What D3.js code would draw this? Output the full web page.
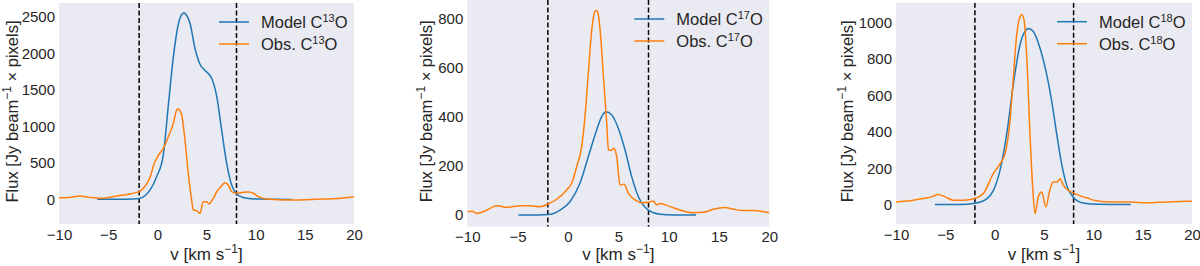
<!DOCTYPE html>
<html>
<head>
<meta charset="utf-8">
<title>Line profiles</title>
<script src="https://cdn.jsdelivr.net/npm/d3@7"></script>
<style>
    body { margin: 0; background: #fff; }
    svg { display: block; font-family: Arial, 'Liberation Sans', sans-serif; }
    .tick text { fill: #262626; font-size: 15px; }
</style>
</head>
<body>
<div id="chart"></div>
<script>
    // velocity [km/s], flux pairs
    var model13 = [[-6.1, 0], [-4, 0], [-2.5, 5], [-1.83, 12], [-1.2, 55], [-0.75, 125], [-0.07, 310],
        [0.61, 610], [1.12, 1290], [1.63, 1950], [2.14, 2400], [2.45, 2525], [2.71, 2555], [3.0, 2515],
        [3.32, 2410], [3.83, 2065], [4.34, 1850], [4.85, 1765], [5.3, 1705], [5.53, 1655], [6.04, 1410],
        [6.54, 950], [7.05, 493], [7.56, 196], [8.07, 72], [8.6, 32], [9.09, 16], [10.4, 3], [12, 0], [13.65, -3]];
    var obs13 = [[-10, 22], [-9, 25], [-7.86, 45], [-7, 30], [-5.83, 14], [-4.5, 35], [-3.46, 59], [-2.78, 73],
        [-2.1, 95], [-1.76, 110], [-1.42, 150], [-0.75, 300], [-0.26, 510], [0.1, 600], [0.61, 698],
        [1.12, 857], [1.63, 1040], [1.97, 1222], [2.14, 1236], [2.3, 1215], [2.48, 1154], [2.81, 812],
        [3.15, 356], [3.49, -10], [3.66, -146], [3.99, -155], [4.34, -192], [4.67, -33], [5.02, -33],
        [5.25, -64], [5.63, 0], [6.04, 104], [6.37, 159], [6.88, 227], [7.22, 196], [7.56, 105], [8.07, 82],
        [8.74, 96], [9.3, 100], [9.8, 80], [10.27, 36], [11.1, 4], [13.5, -10], [16.2, 0], [18.6, 14], [20, 36]];

    var model17 = [[-4.93, 0], [-3, 0], [-1.95, 2], [-1.3, 8], [-0.79, 20], [0.2, 54], [1.19, 129], [2.02, 237],
        [2.85, 346], [3.35, 400], [3.78, 420], [4.34, 407], [5.0, 353], [5.67, 264], [6.33, 156], [7.0, 74],
        [7.98, 20], [9.14, 3], [10.5, 0], [12.72, 0]];
    var obs17 = [[-10, 13], [-9.5, 15], [-9.08, 7], [-8.5, 12], [-8.07, 20], [-7.5, 32], [-7.08, 38], [-6.09, 31],
        [-5.5, 34], [-4.77, 38], [-3.77, 38], [-2.78, 34], [-1.95, 45], [-1.12, 64], [-0.13, 102], [0.37, 129],
        [0.87, 197], [1.36, 278], [1.69, 400], [2.02, 576], [2.36, 752], [2.69, 827], [2.85, 831], [3.02, 813],
        [3.25, 725], [3.52, 563], [3.85, 373], [4.02, 264], [4.34, 263], [4.57, 271], [4.84, 237], [5.17, 122],
        [5.57, 125], [6.0, 88], [6.66, 61], [7.33, 50], [7.98, 52], [8.48, 57], [8.81, 41], [9.14, 47],
        [10.14, 34], [11.13, 20], [12.45, 9], [13.44, 11], [14.44, 23], [15.6, 30], [16.4, 24], [17.4, 18],
        [18.4, 18], [20, 9]];

    var model18 = [[-6.05, 2], [-3.51, 2], [-1.99, 9], [-0.81, 33], [-0.14, 78], [0.54, 189], [1.22, 389],
        [1.89, 661], [2.57, 879], [3.07, 952], [3.41, 968], [3.92, 952], [4.59, 861], [5.27, 716], [5.78, 570],
        [6.29, 389], [6.79, 225], [7.3, 107], [7.97, 42], [8.98, 10], [10.5, 3], [13.8, 2]];
    var obs18 = [[-10, 16], [-8.58, 22], [-7.23, 35], [-6.38, 44], [-5.71, 57], [-5.03, 44], [-4.19, 26],
        [-3.18, 26], [-1.99, 35], [-1.15, 62], [-0.14, 171], [0.54, 225], [1.05, 280], [1.55, 461], [1.89, 697],
        [2.23, 933], [2.57, 1033], [2.74, 1045], [2.98, 1015], [3.24, 824], [3.58, 389], [3.85, 98], [4.09, -47],
        [4.42, 44], [4.76, 71], [5.2, -11], [5.54, 71], [5.94, 125], [6.34, 125], [6.62, 144], [6.96, 107],
        [7.47, 80], [8.14, 62], [8.98, 44], [9.66, 33], [10.0, 26], [11.69, 16], [13.72, 16], [15.41, 11],
        [17.44, 16], [20, 20]];

    var isotopes = ['13', '17', '18'];
    var cuts = [[-1.85, 8.05], [-2, 8], [-2, 8]];
    var xTicks = [-10, -5, 0, 5, 10, 15, 20];
    var yTicks = [[0, 500, 1000, 1500, 2000, 2500], [0, 200, 400, 600, 800], [0, 200, 400, 600, 800, 1000]];
    var yDomains = [[-338, 2688], [-47.6, 874], [-105, 1110]];

    var blue = '#1f77b4', orange = '#ff7f0e', ink = '#262626';

    // pixel boxes of the three axes
    var boxes = [
        {left: 59, right: 354, top: 3, bottom: 224, ylabX: 11.5},
        {left: 467.3, right: 769.3, top: 0, bottom: 226.7, ylabX: 426},
        {left: 896, right: 1192, top: 2.7, bottom: 224, ylabX: 847}
    ];
    var series = [[model13, obs13], [model17, obs17], [model18, obs18]];

    var svg = d3.select('#chart').append('svg')
            .attr('width', 1200)
            .attr('height', 266);

    function addIso(sel, pre, iso) {
        sel.append('tspan').text(pre + 'C');
        sel.append('tspan').attr('dy', -6).style('font-size', '11px').text(iso);
        sel.append('tspan').attr('dy', 6).text('O');
    }

    boxes.forEach(function (b, i) {
        var x = d3.scaleLinear().domain([-10, 20]).range([b.left, b.right]);
        var y = d3.scaleLinear().domain(yDomains[i]).range([b.bottom, b.top]);

        var g = svg.append('g');

        g.append('rect')
                .attr('x', b.left)
                .attr('y', b.top)
                .attr('width', b.right - b.left)
                .attr('height', b.bottom - b.top)
                .style('fill', '#eaeaf2');

        var clipId = 'clip' + i;
        g.append('clipPath').attr('id', clipId).append('rect')
                .attr('x', b.left).attr('y', b.top)
                .attr('width', b.right - b.left).attr('height', b.bottom - b.top);

        var plot = g.append('g').attr('clip-path', 'url(#' + clipId + ')');

        cuts[i].forEach(function (c) {
            plot.append('line')
                    .attr('x1', x(c)).attr('x2', x(c))
                    .attr('y1', b.top).attr('y2', b.bottom)
                    .style('stroke', '#000')
                    .style('stroke-width', 1.5)
                    .style('stroke-dasharray', '5,2.5');
        });

        var line = d3.line()
                .curve(d3.curveMonotoneX)
                .x(function (d) { return x(d[0]); })
                .y(function (d) { return y(d[1]); });

        plot.append('path')
                .attr('d', line(series[i][0]))
                .style('fill', 'none')
                .style('stroke', blue)
                .style('stroke-width', 1.5);

        plot.append('path')
                .attr('d', line(series[i][1]))
                .style('fill', 'none')
                .style('stroke', orange)
                .style('stroke-width', 1.5);

        // axes without tick marks or domain line
        var xAxis = d3.axisBottom(x).tickValues(xTicks).tickSize(0).tickPadding(5)
                .tickFormat(d3.format('d'));
        g.append('g')
                .attr('transform', 'translate(0,' + b.bottom + ')')
                .call(xAxis)
                .call(function (s) { s.select('.domain').remove(); });

        var yAxis = d3.axisLeft(y).tickValues(yTicks[i]).tickSize(0).tickPadding(4)
                .tickFormat(d3.format('d'));
        g.append('g')
                .attr('transform', 'translate(' + b.left + ',0)')
                .call(yAxis)
                .call(function (s) { s.select('.domain').remove(); });

        svg.selectAll('.tick text').attr('font-size', null).attr('font-family', null);

        // axis labels
        var xl = g.append('text')
                .attr('x', (b.left + b.right) / 2)
                .attr('y', 260)
                .attr('text-anchor', 'middle')
                .style('font-size', '17px')
                .style('fill', ink);
        xl.append('tspan').text('v [km s');
        xl.append('tspan').attr('dy', -7).style('font-size', '12px').text('\u22121');
        xl.append('tspan').attr('dy', 7).text(']');

        var yl = g.append('text')
                .attr('transform', 'translate(' + (b.ylabX + 6) + ',' + ((b.top + b.bottom) / 2 - 2) + ') rotate(-90)')
                .attr('text-anchor', 'middle')
                .style('font-size', '16.5px')
                .style('fill', ink);
        yl.append('tspan').text('Flux [Jy beam');
        yl.append('tspan').attr('dy', -7).style('font-size', '12px').text('\u22121');
        yl.append('tspan').attr('dy', 7).text(' \u00d7  pixels]');

        // legend
        var lx = b.right - 135;
        var ly = b.top + 19;
        [blue, orange].forEach(function (col, k) {
            g.append('line')
                    .attr('x1', lx).attr('x2', lx + 30)
                    .attr('y1', ly + k * 22).attr('y2', ly + k * 22)
                    .style('stroke', col)
                    .style('stroke-width', 1.5);
            var t = g.append('text')
                    .attr('x', lx + 42)
                    .attr('y', ly + k * 22 + 6)
                    .style('font-size', '16.5px')
                    .style('fill', ink);
            addIso(t, k === 0 ? 'Model ' : 'Obs. ', isotopes[i]);
        });
    });
</script>
</body>
</html>
